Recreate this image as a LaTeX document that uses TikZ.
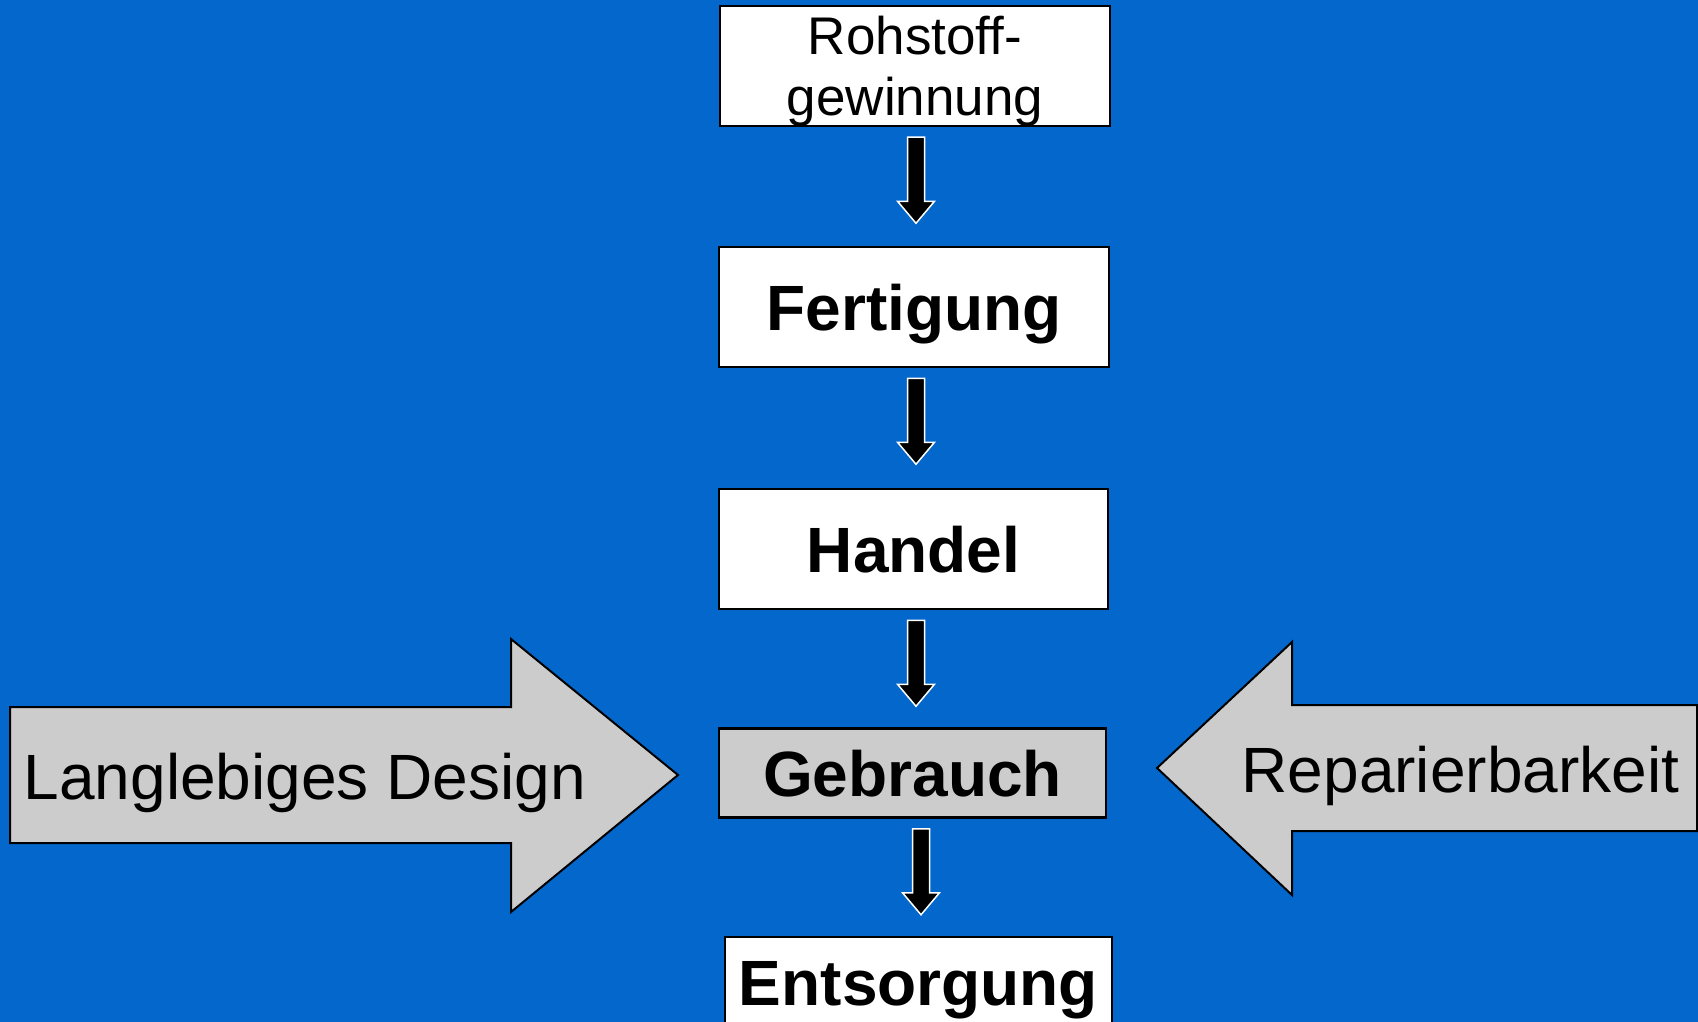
\documentclass[tikz,border=0pt]{standalone}
\usepackage{fontspec}
\setmainfont{Liberation Sans}
\usetikzlibrary{calc}
\definecolor{bg}{RGB}{3,103,204}
\definecolor{lgray}{RGB}{204,204,204}
\newcommand\blockdown[2]{%
  \draw[blk] ($(#1.south)+(#2-8.5,10)$) -- ++(17,0) -- ++(0,64) -- ++(10,0)
    -- ++(-18.5,22) -- ++(-18.5,-22) -- ++(10,0) -- cycle;}
\begin{document}
\begin{tikzpicture}[x=1pt,y=-1pt,
  box/.style={draw=black,line width=2.5pt,fill=white,inner sep=0pt,
    font=\fontsize{64}{74}\selectfont\bfseries,text height=46pt,text depth=0pt},
  blk/.style={fill=black,draw=white,line width=1.5pt,line join=miter},
  side/.style={fill=lgray,draw=black,line width=2pt,line join=miter},
  sidetext/.style={font=\fontsize{64}{74}\selectfont,inner sep=0pt,anchor=base west}]
\useasboundingbox (0,0) rectangle (1698,1022);
\clip (0,0) rectangle (1698,1022);
\fill[bg] (0,0) rectangle (1698,1022);

\node[box,minimum width=390pt,minimum height=120pt,
  font=\fontsize{53}{61}\selectfont,align=center,text height=110pt,text depth=10pt]
  (roh) at (915,66) {Rohstoff-\\gewinnung};
\node[box,minimum width=390pt,minimum height=120pt] (fert) at (914,307) {Fertigung};
\node[box,minimum width=389pt,minimum height=120pt] (handel) at (913.5,549) {Handel};
\node[box,fill=lgray,minimum width=387pt,minimum height=89pt] (gebr) at (912.5,773) {Gebrauch};
\node[box,minimum width=387pt,minimum height=90pt] (ents) at (918.5,982) {Entsorgung};

\blockdown{roh}{1}
\blockdown{fert}{2}
\blockdown{handel}{2.5}
\blockdown{gebr}{8.5}

\coordinate (ltip) at (678,775);
\draw[side] (10,707) -- (511,707) -- (511,639) -- (ltip) -- (511,912) -- (511,843) -- (10,843) -- cycle;
\node[sidetext] (lang) at (23.5,799) {Langlebiges Design};

\coordinate (rtip) at (1157,768);
\draw[side] (1697,705) -- (1292,705) -- (1292,642) -- (rtip) -- (1292,895) -- (1292,831) -- (1697,831) -- cycle;
\node[sidetext] (rep) at (1241.5,792) {Reparierbarkeit};
\end{tikzpicture}
\end{document}
